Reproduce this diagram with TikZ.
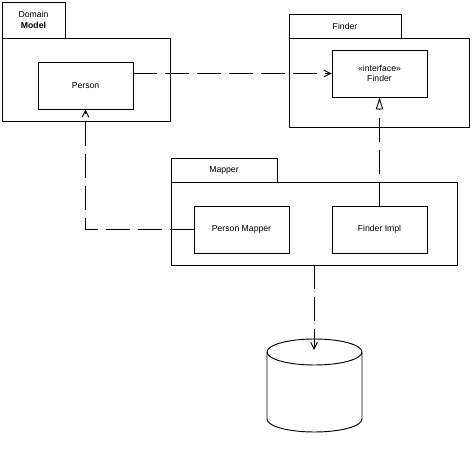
\documentclass[tikz,border=0pt]{standalone}
\usepackage{fontspec}
\setsansfont{Liberation Sans}
\usetikzlibrary{arrows.meta}

\begin{document}
\begin{tikzpicture}[x=0.75pt,y=-0.75pt,line width=0.7pt,
    font=\sffamily\fontsize{6.5}{8}\selectfont,
    box/.style 2 args={draw,rectangle,inner sep=0pt,align=center,
        minimum width=#1*0.75pt,minimum height=#2*0.75pt},
    dep/.style={dash pattern=on 18pt off 6pt,-{Straight Barb[length=5pt,width=5pt]}},
    real/.style={dash pattern=on 18pt off 6pt,-{Triangle[open,length=9pt,width=5.5pt]}}]

    \useasboundingbox (0,0) rectangle (472,449);

    % Domain Model package
    \node [box={63}{36}] (dmtab) at (33.5,20) {Domain\\\textbf{Model}};
    \node [box={168}{83}] (dmbody) at (86,79.5) {};
    \node [box={95}{47}] (person) at (85.5,85.5) {Person};

    % Finder package
    \node [box={112}{24}] (fdtab) at (345,26) {Finder};
    \node [box={180}{89}] (fdbody) at (379,82.5) {};
    \node [box={95}{47}] (finder) at (379.5,73.5) {«interface»\\Finder};

    % Mapper package
    \node [box={106}{24}] (mptab) at (224,170) {Mapper};
    \node [box={286}{83}] (mpbody) at (314,223.5) {};
    \node [box={95}{47}] (pmapper) at (241.5,229.5) {Person Mapper};
    \node [box={95}{47}] (fimpl) at (379.5,229.5) {Finder Impl};

    % Database
    \draw (314.5,352) ellipse [x radius=47.5,y radius=13];
    \draw (267,352) -- (267,419) arc [start angle=180,end angle=0,x radius=47.5,y radius=13] -- (362,352);
    \coordinate (dbtop) at (314,350);

    % Dependencies
    \draw [dep] (person.east |- finder.west) -- (finder.west);
    \draw [dep] (pmapper.west) -| (person.south);
    \draw [real] (fimpl.north) -- (finder.south);
    \draw [dep] (mpbody.south) -- (dbtop);

\end{tikzpicture}
\end{document}
